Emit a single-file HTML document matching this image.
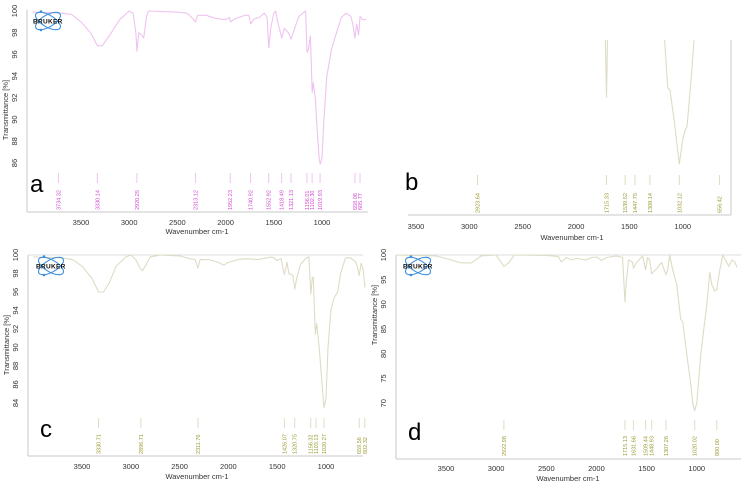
<!DOCTYPE html>
<html><head><meta charset="utf-8"><style>
html,body{margin:0;padding:0;background:#fff;}
svg{display:block;font-family:"Liberation Sans",sans-serif;}
</style></head><body>
<svg id="fig" width="750" height="488" viewBox="0 0 750 488"></svg>
<script>
// ---- data (wavenumber cm-1, transmittance %) ----
const aWave=[4000,3700,3600,3500,3400,3330,3280,3200,3100,3000,2960,2930,2920,2900,2870,2850,2820,2800,2500,2400,2340,2313,2290,2200,2100,2000,1960,1950,1900,1800,1760,1740,1700,1650,1600,1570,1552,1530,1500,1480,1460,1418,1390,1350,1321,1280,1240,1200,1170,1156,1140,1120,1102,1090,1070,1050,1030,1019,1000,980,950,900,850,800,750,700,680,658,640,620,605,580,540];
const aTrans=[99.9,99.8,99.7,99,98,96.8,96.8,97.8,99.2,100,99.8,98,96.3,98,97.8,97.5,99.5,100,99.9,99.8,99.3,99,99.6,99.6,99.3,99.2,99.4,99,99.3,99.6,99.6,98.8,99.3,99.4,99.8,99.4,96.6,98.5,99.8,100,99,97.5,98.4,98,97.4,98.5,99.5,99.8,100,96.2,96.5,97.7,92.5,93.4,92,89,86.5,85.9,86.5,90,94,96.5,98,99.4,99.8,99.5,98.8,97.5,98.8,97.8,99.5,99.2,99.2];
const aPeaks=["3734.32","3330.14","2920.25","2313.12","1952.23","1740.92","1552.92","1418.49","1321.13","1156.01","1102.30","1019.93","658.08","605.77"];

const bWave1=[1725,1715,1705];
const bTrans1=[100,54,100];
const bWave2=[1170,1140,1120,1080,1032,1000,975,960,920,895];
const bTrans2=[100,61,60,35,0,20,28,30,70,100];
const bPeaks=["2923.64","1715.33","1539.52","1447.75","1308.14","1032.12","656.42"];

const cWave=[4000,3700,3600,3500,3400,3330,3280,3220,3150,3050,3000,2950,2900,2880,2840,2800,2700,2500,2400,2340,2312,2290,2200,2100,2050,2000,1900,1800,1700,1600,1550,1500,1460,1440,1426,1400,1380,1340,1320,1300,1260,1200,1175,1156,1140,1130,1110,1095,1070,1040,1020,1000,980,950,920,880,850,800,750,700,680,660,640,620,600];
const cTrans=[99.8,99.7,99.5,98.8,97.5,96,96,97,98.8,99.8,100,99.5,98.5,98.3,99,99.8,100,99.9,99.6,99.5,98.6,99.5,99.5,99.2,98.9,99.2,99.5,99.6,99.5,99.7,99.8,99.4,99.6,98.5,97.9,99.2,98,97.8,96.3,97.5,99,99.7,99.8,95.8,97.5,97.6,91.4,92.6,90,86,83.5,84.5,90,94,95.3,96,98,99.7,99.7,99.3,98.8,97.8,99.1,98.5,96.5];
const cPeaks=["3330.71","2896.71","2311.76","1426.07","1320.75","1156.32","1103.13","1020.27","659.56","602.32"];

const dWave=[4000,3600,3500,3350,3250,3150,3000,2960,2923,2870,2820,2500,2380,2350,2300,2250,2200,2100,2050,2000,1950,1900,1800,1740,1715,1700,1680,1640,1631,1600,1540,1510,1490,1470,1449,1400,1350,1307,1290,1270,1240,1200,1160,1140,1100,1060,1040,1020,1000,960,900,870,850,820,800,770,740,700,680,650,620,600];
const dTrans=[100,99.8,99.3,98.4,98.4,99.8,100,98.8,97.7,98.5,100,99.9,99.7,98.6,99.5,99,99.3,99,99.5,99.6,98.9,99.5,99.8,99.5,90.5,95,99,98.5,97.3,98.5,99.8,97,99.5,99,96.2,97.2,98.5,96,97,100,97,94,87,86.5,80,74,70,68.5,70,80,90,96.5,94,92.7,93,97,100,98.5,97.7,99,98.6,97.5];
const dPeaks=["2922.98","1715.13","1631.66","1509.44","1448.93","1307.26","1020.02","800.00"];

const xTicks=[3500,3000,2500,2000,1500,1000];
const aYTicks=[100,98,96,94,92,90,88,86];
const cYTicks=[100,98,96,94,92,90,88,86,84];
const dYTicks=[100,95,90,85,80,75,70];

const NS="http://www.w3.org/2000/svg";
const svg=document.getElementById('fig');
function mk(tag,attrs,parent,text){const e=document.createElementNS(NS,tag);for(const k in attrs)e.setAttribute(k,attrs[k]);if(text!==undefined)e.textContent=text;(parent||svg).appendChild(e);return e;}

function panel(P){
  const g=mk('g',{});
  
  
  const X=w=>P.x0+(P.w0-w)*P.kx;
  const Y=t=>P.y100+(100-t)*P.ky;
  if(P.yaxis){const ax=mk('line',{x1:P.left,x2:P.left,y1:P.top,y2:P.bottom,stroke:'#c8c8c8','stroke-width':1},g);
    }
  if(P.rightAxis){const ra=mk('line',{x1:P.right,x2:P.right,y1:P.rtop,y2:P.bottom,stroke:'#c8c8c8','stroke-width':1},g);
    }
  const xa=mk('line',{x1:P.left,x2:P.right,y1:P.bottom,y2:P.bottom,stroke:'#c8c8c8','stroke-width':1},g);
  
  if(P.topLine){const tl=mk('line',{x1:P.left,x2:P.right,y1:P.y100,y2:P.y100,stroke:'#dcdcdc','stroke-width':1},g);
    }
  xTicks.forEach(v=>{
    const t=mk('text',{x:X(v),y:P.tickY,'font-size':7.5,fill:'#333','text-anchor':'middle'},g,String(v));
    
  });
  const xt=mk('text',{x:P.titleX,y:P.titleY,'font-size':7.5,fill:'#333','text-anchor':'middle'},g,'Wavenumber cm-1');
  
  if(P.yTicks){
    P.yTicks.forEach(v=>{
      const yy=Y(v);
      const t=mk('text',{x:0,y:0,'font-size':7.5,fill:'#333','text-anchor':'middle',transform:`translate(${P.left-10},${yy}) rotate(-90)`},g,String(v));
      
    });
    const yt=mk('text',{x:0,y:0,'font-size':7.5,fill:'#333','text-anchor':'middle',transform:`translate(${P.ytitleX},${P.ytitleY}) rotate(-90)`},g,'Transmittance [%]');
    
  }
  P.series.forEach((s,i)=>{
    const pts=s[0].map((w,j)=>X(w).toFixed(1)+','+Y(s[1][j]).toFixed(1)).join(' ');
    const pl=mk('polyline',{points:pts,fill:'none',stroke:P.lineColor,'stroke-width':1.1,'stroke-linejoin':'round'},g);
    
  });
  P.peaks.forEach(p=>{
    const xx=X(parseFloat(p));
    const l=mk('line',{x1:xx,x2:xx,y1:P.pkTop,y2:P.pkTop+10,stroke:P.lineColor,'stroke-width':1},g);
    
    const t=mk('text',{x:0,y:0,'font-size':5.5,fill:P.labelColor,transform:`translate(${xx+2},${P.pkTextY}) rotate(-90)`},g,p);
    
  });
  const L=mk('text',{x:P.letterX,y:P.letterY,'font-size':24,fill:'#000'},g,P.id);
  
  if(P.logo){
    const lg=mk('g',{transform:`translate(${P.logo[0]},${P.logo[1]})`},g);
    
    mk('ellipse',{cx:15,cy:11,rx:14,ry:6,fill:'none',stroke:'#3a8ee0','stroke-width':1.1,transform:'rotate(30 15 11)'},lg);
    mk('ellipse',{cx:15,cy:11,rx:14,ry:6,fill:'none',stroke:'#3a8ee0','stroke-width':1.1,transform:'rotate(-30 15 11)'},lg);
    mk('circle',{cx:8,cy:1.5,r:1.3,fill:'#3a8ee0'},lg);
    mk('circle',{cx:8,cy:20,r:1.3,fill:'#3a8ee0'},lg);
    mk('text',{x:0,y:13.5,'font-size':6.5,'font-weight':'bold',fill:'#111','letter-spacing':0.3},lg,'BRUKER');
  }
}

panel({id:'a',x0:81,w0:3500,kx:0.0964,y100:11,ky:10.86,left:27,right:368,top:10,bottom:212,tickY:225,titleX:197,titleY:234,
  yTicks:aYTicks,yaxis:true,ytitleX:8,ytitleY:110,series:[[aWave,aTrans]],peaks:aPeaks,pkTop:173,pkTextY:210,
  lineColor:'#efc3ef',labelColor:'#d24bd2',letterX:30,letterY:192,logo:[33,10]});
panel({id:'b',x0:416,w0:3500,kx:0.1067,y100:40,ky:1.24,left:408,right:731,top:40,bottom:215,rtop:40,rightAxis:true,tickY:229,titleX:572,titleY:240,
  series:[[bWave1,bTrans1],[bWave2,bTrans2]],peaks:bPeaks,pkTop:175,pkTextY:213,
  lineColor:'#dedcc4',labelColor:'#9b9b35',letterX:405,letterY:190});
panel({id:'c',x0:82,w0:3500,kx:0.0976,y100:255,ky:9.25,left:28,right:363,top:255,bottom:456,tickY:469,titleX:197,titleY:479,topLine:true,
  yTicks:cYTicks,yaxis:true,ytitleX:9,ytitleY:345,series:[[cWave,cTrans]],peaks:cPeaks,pkTop:418,pkTextY:454,
  lineColor:'#dedcc4',labelColor:'#9b9b35',letterX:40,letterY:437,logo:[36,255]});
panel({id:'d',x0:446,w0:3500,kx:0.1003,y100:255,ky:4.94,left:396,right:741,top:255,bottom:459,tickY:471,titleX:568,titleY:481,topLine:true,
  yTicks:dYTicks,yaxis:true,ytitleX:377,ytitleY:315,series:[[dWave,dTrans]],peaks:dPeaks,pkTop:420,pkTextY:456,
  lineColor:'#dedcc4',labelColor:'#9b9b35',letterX:408,letterY:440,logo:[403,255]});
</script>
</body></html>
